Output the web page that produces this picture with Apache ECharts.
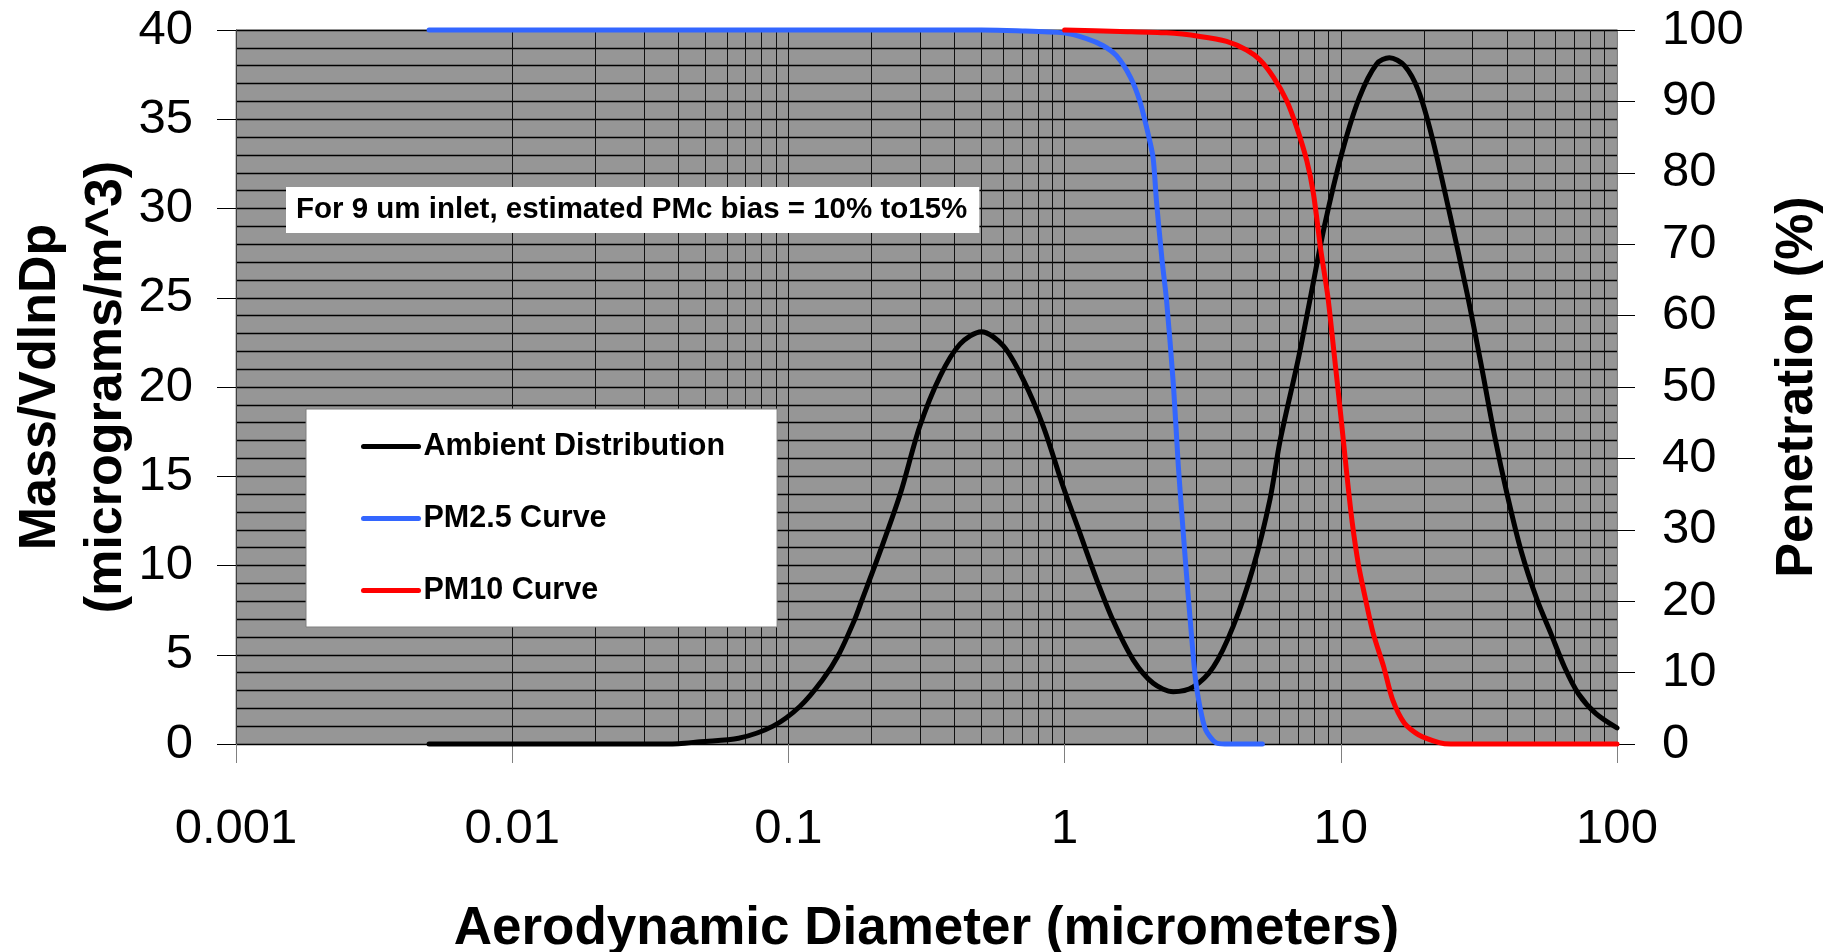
<!DOCTYPE html>
<html>
<head>
<meta charset="utf-8">
<script src="https://cdn.jsdelivr.net/npm/echarts@6/dist/echarts.min.js"></script>
<style>
  html, body { margin: 0; padding: 0; background: #fff; }
  #chart { width: 1846px; height: 952px; }
</style>
</head>
<body>
<div id="chart"></div>
<script>
const FONT = "'Liberation Sans', Arial, sans-serif";

// Ambient mass distribution: diameter (µm) -> dM/dlnDp (µg/m^3)
const ambientDiameter = [0.005, 0.01, 0.02, 0.03, 0.04, 0.048, 0.066, 0.088, 0.11, 0.133, 0.152, 0.173, 0.184,
  0.215, 0.254, 0.299, 0.354, 0.418, 0.5, 0.6, 0.709, 0.837, 0.989, 1.137, 1.307, 1.5, 1.774, 2.094, 2.475,
  2.924, 3.453, 4.08, 4.82, 5.54, 6.03, 7.0, 7.76, 8.72, 10.09, 11.66, 13.48, 15.0, 17.0, 19.1, 21.4, 24.8,
  28.7, 32, 36, 40, 45, 51.3, 57.6, 64.6, 72.6, 83.9, 100];
const ambientMass = [0, 0, 0, 0, 0.02, 0.13, 0.32, 1.0, 2.1, 3.6, 5.0, 6.9, 8.0,
  10.8, 14.0, 17.8, 20.6, 22.4, 23.1, 22.3, 20.4, 17.8, 14.4, 11.8, 9.2, 6.9, 4.7, 3.4, 2.93,
  3.2, 4.3, 6.6, 9.9, 13.7, 17.0, 21.5, 25.0, 29.0, 33.1, 36.2, 38.1, 38.45, 38.0, 36.6, 34.0, 29.7,
  25.2, 21.5, 17.3, 14.0, 10.8, 8.1, 6.2, 4.3, 2.8, 1.7, 0.9];

// PM2.5 inlet penetration: diameter (µm) -> penetration (%)
const pm25Diameter = [0.005, 0.1, 0.5, 0.67, 0.99, 1.2, 1.38, 1.54, 1.73, 1.87, 1.98, 2.09, 2.15, 2.25,
  2.34, 2.48, 2.58, 2.69, 2.81, 2.97, 3.09, 3.24, 3.52, 3.8, 5.2];
const pm25Penetration = [100, 100, 100, 99.9, 99.6, 98.8, 97.8, 96.4, 93.4, 90.1, 86.4, 82.2, 76.1, 68,
  62.1, 50, 39, 29.5, 20.2, 9.5, 5.2, 2.0, 0.2, 0, 0];

// PM10 inlet penetration: diameter (µm) -> penetration (%)
const pm10Diameter = [1.0, 1.59, 2.34, 3.09, 3.86, 4.56, 5.1, 5.7, 6.37, 6.92, 7.53, 7.96, 8.47, 8.98,
  9.5, 10, 10.5, 11.0, 11.6, 12.3, 13.1, 14.3, 15.4, 17.0, 19.1, 22.7, 25, 100];
const pm10Penetration = [100, 99.8, 99.6, 99.1, 98.4, 97.2, 95.8, 93.4, 90.1, 86.4, 81.7, 77.1, 69.1, 62.6,
  54, 46, 38, 31, 25, 20.2, 15.5, 10.8, 6.2, 2.9, 1.3, 0.2, 0, 0];

const seriesNames = ['Ambient Distribution', 'PM2.5 Curve', 'PM10 Curve'];
const xTickLabels = ['0.001', '0.01', '0.1', '1', '10', '100'];
const decadeStarts = [0.001, 0.01, 0.1, 1, 10];
const gridMultipliers = [1, 2, 3, 4, 5, 6, 7, 8, 9];
const noteText = 'For 9 um inlet, estimated PMc bias = 10% to15%';

const zip = (xs, ys) => xs.map((x, i) => [x, ys[i]]);

// Vertical log grid: decade lines plus 2..9 within each decade, placed through the x axis
const logGridLines = [];
decadeStarts.forEach(d => gridMultipliers.forEach(m => {
  if (d * m > 0.0011) logGridLines.push({ xAxis: d * m });
}));

const chart = echarts.init(document.getElementById('chart'), null, { renderer: 'canvas' });

const labelText = { fontFamily: FONT, color: '#000', fontSize: 49 };
const titleText = { fontFamily: FONT, color: '#000', fontSize: 52, fontWeight: 'bold' };
const curveWidth = 5;

chart.setOption({
  animation: false,
  backgroundColor: '#fff',
  title: {
    text: noteText,
    left: 286, top: 187,
    padding: [8, 12, 8, 10],
    backgroundColor: '#fff',
    textStyle: { fontFamily: FONT, fontSize: 29.5, fontWeight: 'bold', color: '#000' }
  },
  legend: {
    data: seriesNames,
    orient: 'vertical',
    left: 306, top: 409,
    padding: [22, 52, 21, 55],
    itemWidth: 55, itemHeight: 30, itemGap: 41,
    backgroundColor: '#fff',
    borderColor: '#7f7f7f', borderWidth: 1,
    selectedMode: false,
    itemStyle: { opacity: 0 },
    lineStyle: { width: curveWidth, cap: 'round' },
    textStyle: { fontFamily: FONT, fontSize: 30.5, fontWeight: 'bold', color: '#000' }
  },
  grid: {
    left: 236, right: 229, top: 30, bottom: 208,
    show: true,
    backgroundColor: '#969696',
    borderColor: '#8c8c8c', borderWidth: 1,
    containLabel: false,
    outerBoundsMode: 'none'
  },
  xAxis: {
    type: 'log', logBase: 10, min: 0.001, max: 100,
    name: 'Aerodynamic Diameter (micrometers)',
    nameLocation: 'middle', nameGap: 159, nameMoveOverlap: false,
    nameTextStyle: Object.assign({}, titleText, { fontSize: 53 }),
    axisLine: { show: true, lineStyle: { color: '#000', width: 1 } },
    axisTick: { show: true, length: 19, lineStyle: { color: '#808080', width: 1 } },
    axisLabel: Object.assign({}, labelText, {
      margin: 61,
      formatter: v => {
        const k = Math.log10(v) + 3;
        return Math.abs(k - Math.round(k)) < 1e-6 ? xTickLabels[Math.round(k)] : '';
      }
    }),
    splitLine: { show: false },
    minorTick: { show: false },
    minorSplitLine: { show: false }
  },
  yAxis: [{
    type: 'value', min: 0, max: 40, interval: 5, position: 'left',
    name: 'Mass/VdlnDp\n(micrograms/m^3)',
    nameLocation: 'middle', nameRotate: 90, nameGap: 96, nameMoveOverlap: false,
    nameTextStyle: Object.assign({}, titleText, { lineHeight: 66 }),
    axisLine: { show: true, lineStyle: { color: '#404040', width: 1 } },
    axisTick: { show: true, length: 19, lineStyle: { color: '#000', width: 1 } },
    axisLabel: Object.assign({}, labelText, { margin: 43 }),
    splitLine: { show: true, lineStyle: { color: '#000', width: 1.3 } },
    minorTick: { show: false, splitNumber: 5 },
    minorSplitLine: { show: true, lineStyle: { color: '#000', width: 1.3 } }
  }, {
    type: 'value', min: 0, max: 100, interval: 10, position: 'right',
    name: 'Penetration (%)',
    nameLocation: 'middle', nameRotate: 90, nameGap: 155, nameMoveOverlap: false,
    nameTextStyle: titleText,
    axisLine: { show: true, lineStyle: { color: '#808080', width: 1 } },
    axisTick: { show: true, length: 18, lineStyle: { color: '#000', width: 1 } },
    axisLabel: Object.assign({}, labelText, { margin: 45 }),
    splitLine: { show: false }
  }],
  series: [{
    name: 'log-grid',
    type: 'line',
    data: [],
    silent: true,
    markLine: {
      silent: true,
      symbol: ['none', 'none'],
      label: { show: false },
      lineStyle: { color: '#111', width: 1, type: 'solid' },
      emphasis: { disabled: true },
      animation: false,
      z: 1,
      data: logGridLines
    }
  }, {
    name: seriesNames[0],
    type: 'line', yAxisIndex: 0,
    data: zip(ambientDiameter, ambientMass),
    symbol: 'none', smooth: 0.3, clip: false, z: 3,
    itemStyle: { color: '#000' },
    lineStyle: { color: '#000', width: curveWidth, cap: 'round', join: 'round' }
  }, {
    name: seriesNames[1],
    type: 'line', yAxisIndex: 1,
    data: zip(pm25Diameter, pm25Penetration),
    symbol: 'none', smooth: 0.25, clip: false, z: 4,
    itemStyle: { color: '#3366ff' },
    lineStyle: { color: '#3366ff', width: curveWidth, cap: 'round', join: 'round' }
  }, {
    name: seriesNames[2],
    type: 'line', yAxisIndex: 1,
    data: zip(pm10Diameter, pm10Penetration),
    symbol: 'none', smooth: 0.25, clip: false, z: 5,
    itemStyle: { color: '#ff0000' },
    lineStyle: { color: '#ff0000', width: curveWidth, cap: 'round', join: 'round' }
  }]
});
</script>
</body>
</html>
